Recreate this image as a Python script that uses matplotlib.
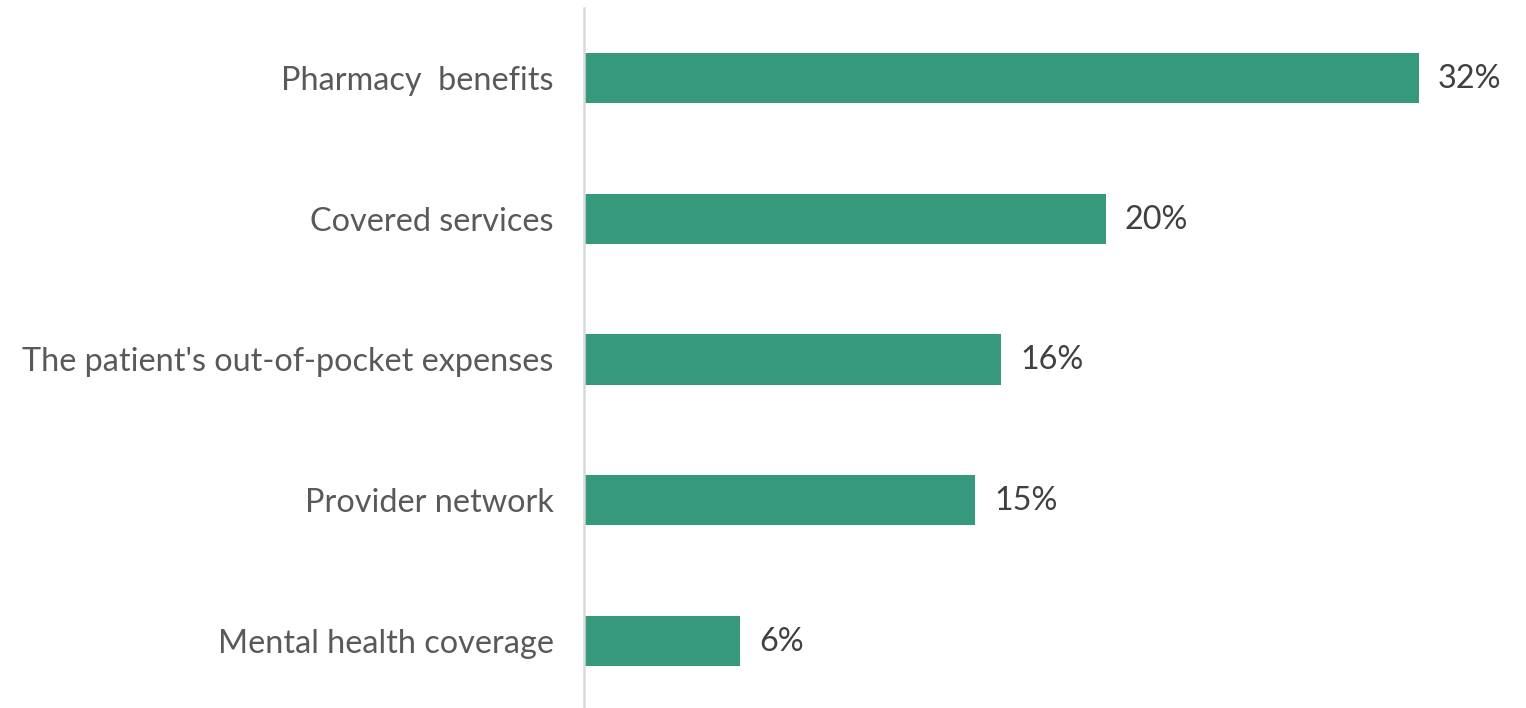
import matplotlib
matplotlib.use("Agg")
import matplotlib.pyplot as plt

categories = ["Pharmacy  benefits", "Covered services", "The patient's out-of-pocket expenses",
              "Provider network", "Mental health coverage"]
values = [32, 20, 16, 15, 6]
value_labels = ["32%", "20%", "16%", "15%", "6%"]

plt.rcParams['font.family'] = ['Lato', 'DejaVu Sans']

fig = plt.figure(figsize=(15.26, 7.08), dpi=100)
ax = fig.add_axes([583.5/1526, -3/708, 1 - 583.5/1526, 703/708])

y = list(range(len(categories)))
ax.barh(y, values, height=0.356, color="#36997B")
ax.set_ylim(len(categories) - 0.5, -0.5)
ax.set_xlim(0, 36.1)
ax.set_yticks(y)
ax.set_yticklabels(categories, fontsize=23.3, color="#595959")
ax.tick_params(axis='y', length=0, pad=21.5)
ax.set_xticks([])
for s in ["top", "right", "bottom"]:
    ax.spines[s].set_visible(False)
ax.spines["left"].set_color("#d9d9d9")
ax.spines["left"].set_linewidth(1.8)

for yi, v, lab in zip(y, values, value_labels):
    ax.annotate(lab, (v, yi), xytext=(19, -1), textcoords="offset pixels",
                va="center", ha="left", fontsize=23.3, color="#404040")

fig.savefig("out.png", dpi=100)
